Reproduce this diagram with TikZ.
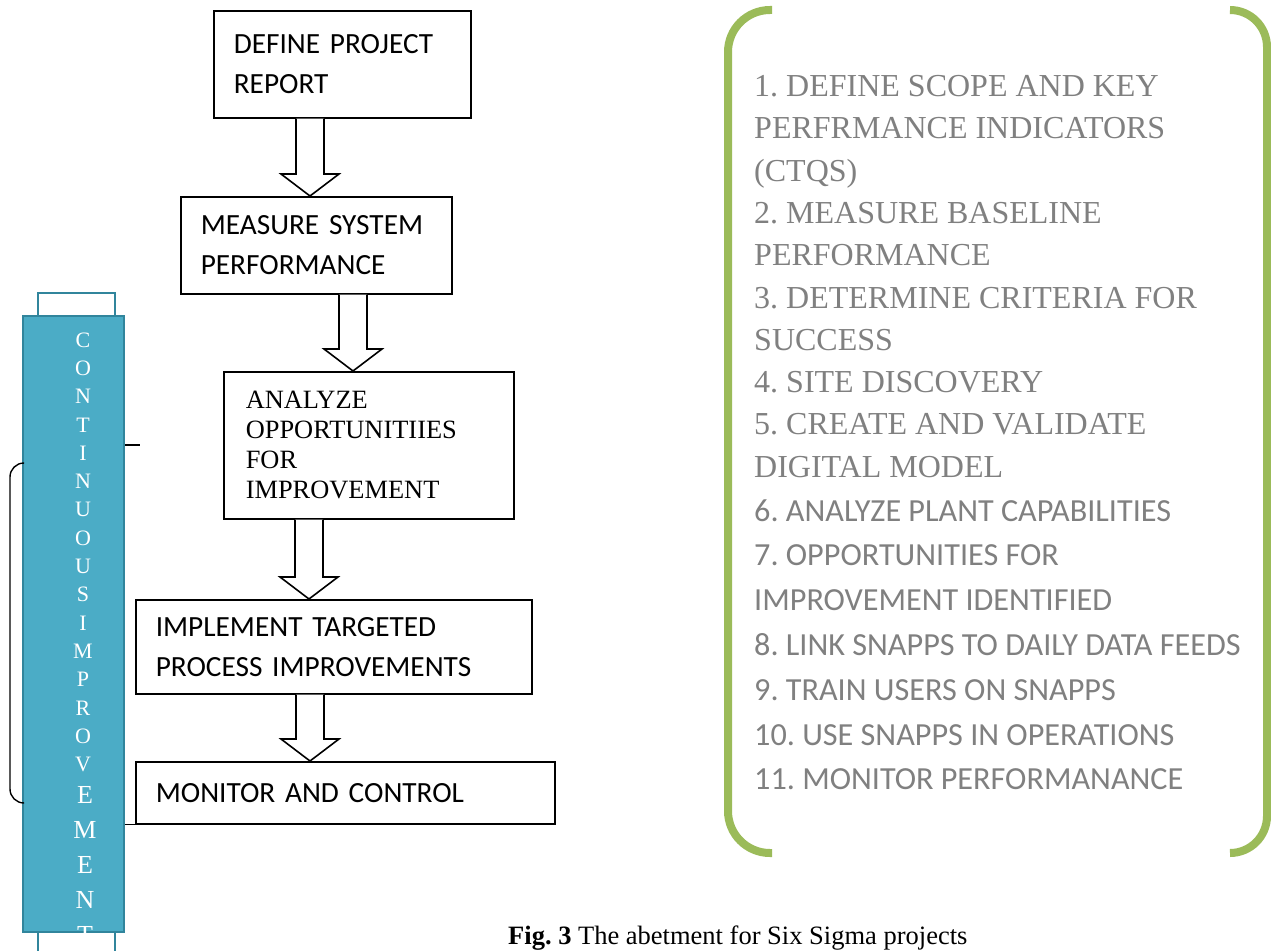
\documentclass[tikz,border=0pt]{standalone}
\usepackage{fontspec}
\setmainfont{Liberation Serif}
\newfontfamily\calibri{Carlito}
\usetikzlibrary{calc}
\frenchspacing

\definecolor{tealfill}{HTML}{4BACC6}
\definecolor{tealedge}{HTML}{31859C}
\definecolor{bracegreen}{HTML}{9BBB59}
\definecolor{listgray}{HTML}{808080}

\newcommand{\boxfont}{\calibri\fontsize{29.3}{40}\selectfont}
\newcommand{\timesbox}{\fontsize{26.4}{30}\selectfont}
\newcommand{\listserif}{\fontsize{32}{38}\selectfont}
\newcommand{\listsans}{\calibri\fontsize{32.2}{38}\selectfont}

\begin{document}
\begin{tikzpicture}[x=1pt, y=-1pt,
    stepbox/.style={draw, line width=1.6pt, anchor=north west, align=left,
        inner xsep=20pt, inner ysep=0pt, font=\boxfont},
    blockarrow/.style={draw, line width=1.6pt, fill=white, line join=miter},
    listline/.style={anchor=base west, inner sep=0pt, text=listgray},
    barletter/.style={text=white, inner sep=0pt},
    greenbrace/.style={draw=bracegreen, line width=8pt}]
    \useasboundingbox (0,0) rectangle (1271,950);
    \clip (0,0) rectangle (1271,950);

    % steps of the project
    \node[stepbox, text width=217pt, minimum height=107pt] (define) at (213,10) {DEFINE PROJECT\\REPORT};
    \node[stepbox, text width=231pt, minimum height=97pt] (measure) at (180,196) {MEASURE SYSTEM\\PERFORMANCE};
    \node[stepbox, text width=246pt, minimum height=147pt, inner xsep=22pt, font=\timesbox] (analyze) at (223,371) {ANALYZE\\OPPORTUNITIIES\\FOR\\IMPROVEMENT};
    \node[stepbox, text width=356pt, minimum height=94pt] (implement) at (135,599) {IMPLEMENT TARGETED\\PROCESS IMPROVEMENTS};
    \node[stepbox, text width=379pt, minimum height=62pt] (monitor) at (135,761) {MONITOR AND CONTROL};

    \foreach \ax/\from/\to in {310/define/measure, 353/measure/analyze, 309/analyze/implement, 310/implement/monitor} {
        \coordinate (ax) at (\ax,0);
        \draw[blockarrow] ($(ax |- \from.south)+(-14,0)$) -- ($(ax |- \to.north)+(-14,-22)$)
            -- ($(ax |- \to.north)+(-29,-22)$) -- (ax |- \to.north) -- ($(ax |- \to.north)+(29,-22)$)
            -- ($(ax |- \to.north)+(14,-22)$) -- ($(ax |- \from.south)+(14,0)$);
    }

    % continuous improvement bar
    \draw[tealedge, line width=2pt] (38,293) rectangle (115,980);
    \coordinate (bt) at (0,463);
    \coordinate (bb) at (0,803);
    \coordinate (tick) at (140,445);
    \node[fill=tealfill, draw=tealedge, line width=2pt, minimum width=101pt, minimum height=616pt,
        anchor=north west, inner sep=0pt] (cibar) at (22,315) {};
    \draw[line width=1.4pt, rounded corners=14pt] (cibar.west |- bt) -- (10,463) -- (10,803) -- (cibar.west |- bb);
    \draw[line width=1.2pt] (cibar.east |- tick) -- (tick);
    \draw[line width=1.2pt] (cibar.east |- monitor.south) -- (monitor.south west);
    \begin{scope}
        \clip (cibar.south west) rectangle (cibar.north east);
        \foreach \l [count=\i] in {C,O,N,T,I,N,U,O,U,S,I,M,P,R,O,V}
            \node[barletter, font=\fontsize{22}{22}\selectfont] (l\i) at (83,{340+28.3*(\i-1)}) {\l};
        \foreach \l/\y [count=\i] in {E/795,M/830,E/865,N/900,T/935}
            \node[barletter, font=\fontsize{26}{26}\selectfont] (m\i) at (85,\y) {\l};
    \end{scope}

    % list of tasks
    \draw[greenbrace, rounded corners=42pt] (772,10) -- (728,10) -- (728,853) -- (772,853);
    \draw[greenbrace, rounded corners=37pt] (1230,10) -- (1267,10) -- (1267,853) -- (1230,853);
    \foreach \t [count=\i] in {1. DEFINE SCOPE AND KEY, PERFRMANCE INDICATORS, (CTQS), 2. MEASURE BASELINE,
        PERFORMANCE, 3. DETERMINE CRITERIA FOR, SUCCESS, 4. SITE DISCOVERY, 5. CREATE AND VALIDATE, DIGITAL MODEL}
        \node[listline, font=\listserif] (s\i) at (754,{96.5+42.3*(\i-1)}) {\t};
    \foreach \t [count=\i] in {6. ANALYZE PLANT CAPABILITIES, 7. OPPORTUNITIES FOR, IMPROVEMENT IDENTIFIED,
        8. LINK SNAPPS TO DAILY DATA FEEDS, 9. TRAIN USERS ON SNAPPS, 10. USE SNAPPS IN OPERATIONS, 11. MONITOR PERFORMANANCE}
        \node[listline, font=\listsans] (c\i) at (754,{521+44.8*(\i-1)}) {\t};

    \node[anchor=base west, inner sep=0pt, font=\fontsize{26.5}{30}\selectfont] (caption) at (508,944)
        {\textbf{Fig. 3} The abetment for Six Sigma projects};
\end{tikzpicture}
\end{document}
